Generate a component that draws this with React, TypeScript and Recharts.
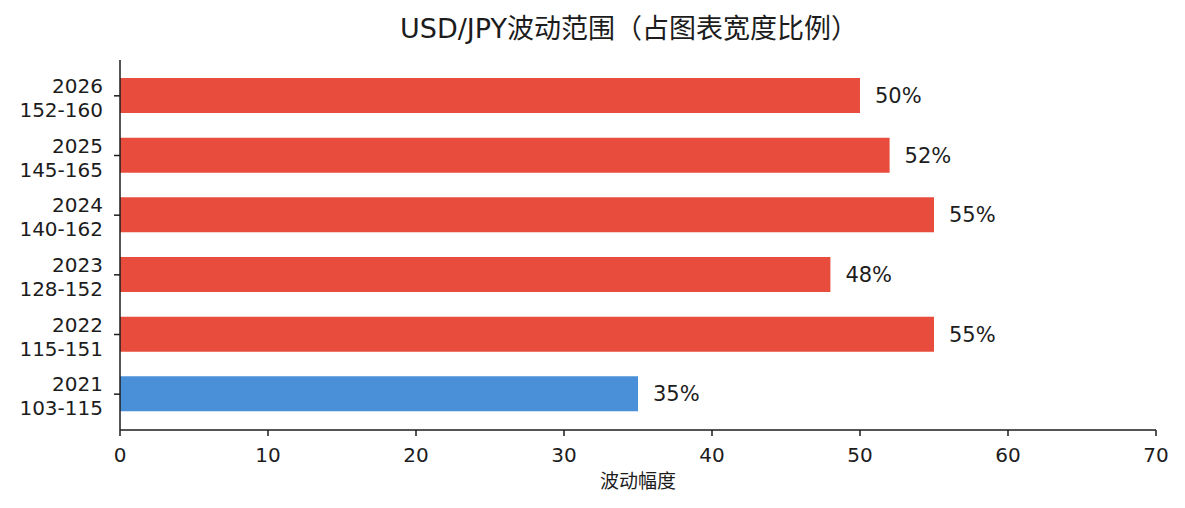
import React from 'react';
import { BarChart, Bar, XAxis, YAxis, Cell, LabelList } from 'recharts';

const years = ['2026', '2025', '2024', '2023', '2022', '2021'];
const ranges = ['152-160', '145-165', '140-162', '128-152', '115-151', '103-115'];
const widths = [50, 52, 55, 48, 55, 35];
const xTicks = [0, 10, 20, 30, 40, 50, 60, 70];

const title = 'USD/JPY波动范围（占图表宽度比例）';
const xLabel = '波动幅度';

const RED = '#E74C3C';
const BLUE = '#4A90D9';
const INK = '#1c1c1c';
const FONT = '"DejaVu Sans", "Noto Sans CJK SC", sans-serif';

const data = years.map((y, i) => ({ year: y, range: ranges[i], value: widths[i] }));

const YTick = (props: any) => {
  const { x, y, payload } = props;
  const idx = years.indexOf(payload.value);
  return (
    <g>
      <text x={x} y={y - 3} textAnchor="end" fill={INK} fontSize={20} fontFamily={FONT}>
        {payload.value}
      </text>
      <text x={x} y={y + 21} textAnchor="end" fill={INK} fontSize={20} fontFamily={FONT}>
        {ranges[idx]}
      </text>
    </g>
  );
};

export default function App() {
  return (
    <div style={{ position: 'absolute', left: 0, top: 0, width: 1185, height: 508, background: '#fff' }}>
      <svg width={1185} height={60} style={{ position: 'absolute', left: 0, top: 0 }}>
        <text x={629} y={38} textAnchor="middle" fill={INK} fontSize={27} fontFamily={FONT}>
          {title}
        </text>
      </svg>
      <BarChart
        width={1185}
        height={508}
        data={data}
        layout="vertical"
        margin={{ top: 60, right: 29, left: 10, bottom: 18 }}
      >
        <XAxis
          type="number"
          domain={[0, 70]}
          ticks={xTicks}
          interval={0}
          height={60}
          tickSize={6}
          tickMargin={12}
          axisLine={{ stroke: INK, strokeWidth: 1.5 }}
          tickLine={{ stroke: INK, strokeWidth: 1.5 }}
          tick={{ fill: INK, fontSize: 20, fontFamily: FONT }}
          label={{ value: xLabel, position: 'insideBottom', offset: 2, fill: INK, fontSize: 19, fontFamily: FONT }}
        />
        <YAxis
          type="category"
          dataKey="year"
          width={110}
          padding={{ top: 6, bottom: 6 }}
          tickSize={6}
          tickMargin={11}
          axisLine={{ stroke: INK, strokeWidth: 1.5 }}
          tickLine={{ stroke: INK, strokeWidth: 1.5 }}
          tick={<YTick />}
          interval={0}
        />
        <Bar dataKey="value" barSize={35} isAnimationActive={false}>
          {data.map((d) => (
            <Cell key={d.year} fill={d.year === '2021' ? BLUE : RED} />
          ))}
          <LabelList
            dataKey="value"
            position="right"
            offset={15}
            formatter={(v: any) => `${v}%`}
            fill={INK}
            fontSize={21}
            fontFamily={FONT}
          />
        </Bar>
      </BarChart>
    </div>
  );
}
